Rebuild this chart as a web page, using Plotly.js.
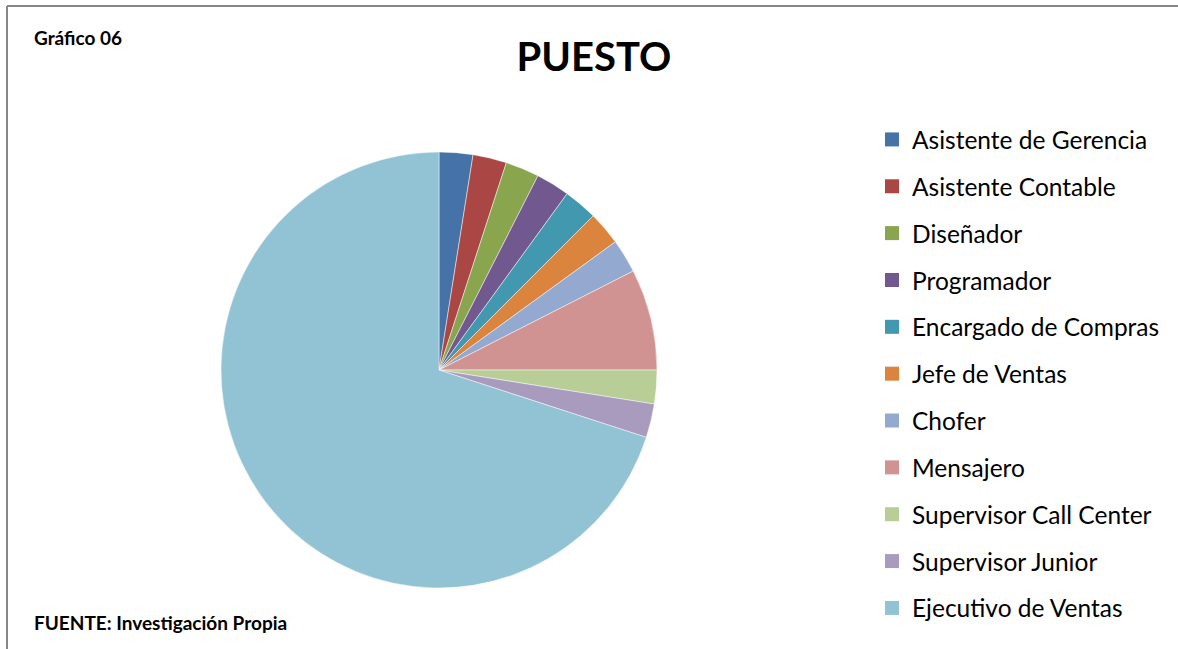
<!DOCTYPE html>
<html>
<head>
<meta charset="utf-8">
<script src="https://cdn.plot.ly/plotly-3.0.1.min.js"></script>
<style>html,body{margin:0;padding:0;background:#fff;}#chart{width:1178px;height:649px;}</style>
</head>
<body>
<div id="chart"></div>
<script>
const categories = ["Asistente de Gerencia","Asistente Contable","Diseñador","Programador","Encargado de Compras","Jefe de Ventas","Chofer","Mensajero","Supervisor Call Center","Supervisor Junior","Ejecutivo de Ventas"];
const counts = [1,1,1,1,1,1,1,3,1,1,28];
const colors = ["#4572A7","#AA4643","#89A54E","#71588F","#4198AF","#DB843D","#93A9CF","#D19392","#B9CD96","#A99BBD","#92C3D4"];

const W = 1178, H = 649;
const FONT = "Lato, Carlito, Calibri, sans-serif";

const pie = {
  type: "pie",
  labels: categories,
  values: counts,
  sort: false,
  direction: "clockwise",
  rotation: 0,
  textinfo: "none",
  hoverinfo: "none",
  showlegend: false,
  marker: {colors: colors, line: {color: "rgba(255,255,255,0.6)", width: 0.8}},
  domain: {x: [221/W, 657/W], y: [(H-588)/H, (H-152)/H]}
};

const legendTraces = categories.map((c, i) => ({
  type: "scatter",
  mode: "markers",
  x: [null], y: [null],
  name: c,
  legendgroup: "g" + i,
  marker: {symbol: "square", size: 14, color: colors[i]},
  hoverinfo: "none"
}));

const layout = {
  width: W, height: H,
  margin: {l: 0, r: 0, t: 0, b: 0},
  paper_bgcolor: "#fff",
  plot_bgcolor: "#fff",
  font: {family: FONT, color: "#000"},
  xaxis: {visible: false},
  yaxis: {visible: false},
  title: {text: "<b>PUESTO</b>", font: {family: FONT, size: 40, color: "#000"}, x: 594/W, xanchor: "center", y: 1 - 57/H, yanchor: "middle"},
  showlegend: true,
  legend: {
    x: 872/W, xanchor: "left",
    y: 1 - 117/H, yanchor: "top",
    traceorder: "grouped",
    tracegroupgap: 12,
    font: {family: FONT, size: 24.5, color: "#000"},
    itemclick: false, itemdoubleclick: false
  },
  annotations: [
    {text: "<b>Gráfico 06</b>", xref: "paper", yref: "paper", x: 32/W, y: 1 - 37/H, xanchor: "left", yanchor: "middle", showarrow: false, font: {family: FONT, size: 19, color: "#000"}},
    {text: "<b>FUENTE: Investigación Propia</b>", xref: "paper", yref: "paper", x: 32/W, y: 1 - 622/H, xanchor: "left", yanchor: "middle", showarrow: false, font: {family: FONT, size: 19, color: "#000"}}
  ],
  shapes: [
    {type: "line", xref: "paper", yref: "paper", x0: 7/W, x1: 1, y0: 1 - 6/H, y1: 1 - 6/H, line: {color: "#878787", width: 2}},
    {type: "line", xref: "paper", yref: "paper", x0: 7/W, x1: 7/W, y0: 0, y1: 1 - 6/H, line: {color: "#878787", width: 2}}
  ]
};

Plotly.newPlot("chart", [pie].concat(legendTraces), layout, {displayModeBar: false, staticPlot: true});
</script>
</body>
</html>
